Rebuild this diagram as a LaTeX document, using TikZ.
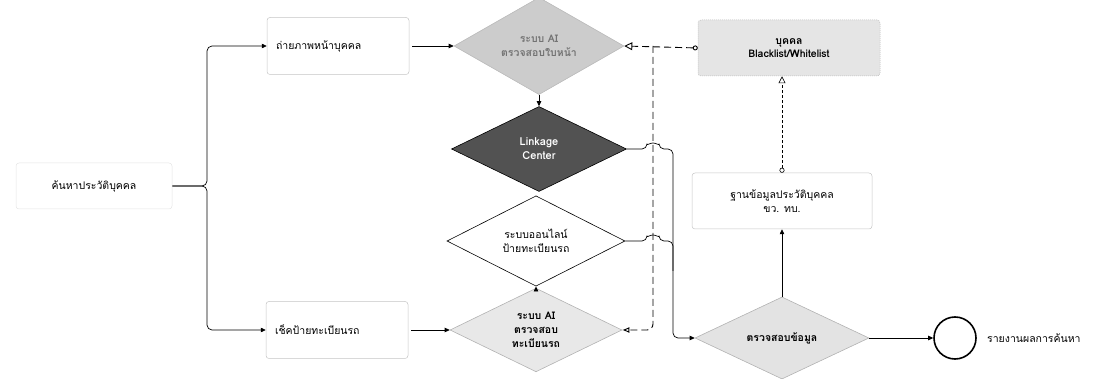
\documentclass[tikz,border=0pt]{standalone}
\usepackage{fontspec}
\setmainfont[Script=Thai]{Loma}
\usetikzlibrary{shapes.geometric,arrows.meta,calc}

\begin{document}
\begin{tikzpicture}[x=1pt,y=-1pt,
  font=\fontsize{10.5}{14}\selectfont,
  flowbox/.style={rectangle, rounded corners=3pt, draw=gray!45, line width=0.5pt,
    fill=white, inner sep=0pt, align=center},
  inbox/.style={flowbox, align=left, text width=124pt, inner xsep=9pt, minimum height=57pt},
  decide/.style={diamond, draw=black, line width=0.6pt, inner sep=0pt, align=center},
  aidecide/.style={decide, draw=gray!60, fill=gray!22, font=\fontsize{10.5}{14}\selectfont\bfseries},
  link/.style={line width=0.7pt, rounded corners=5pt, -{Triangle[length=5pt,width=4.5pt]}},
  plain/.style={line width=0.7pt, rounded corners=5pt},
  feed/.style={line width=0.9pt, dash pattern=on 7pt off 4pt},
  finefeed/.style={line width=0.6pt, dash pattern=on 3pt off 2pt},
  ]
\useasboundingbox (0,0) rectangle (1101,379);

% sources
\node[flowbox, draw=gray!20, minimum width=156pt, minimum height=46pt] (find) at (94,186) {ค้นหาประวัติบุคคล};
\node[inbox] (photo) at (338,46) {ถ่ายภาพหน้าบุคคล};
\node[inbox] (plate) at (337,330) {เช็คป้ายทะเบียนรถ};

% central decisions
\node[aidecide, fill=gray!40, draw=gray!55, text=black!55, minimum width=170pt, minimum height=80pt] (aiface) at (539,46) {ระบบ AI\\ตรวจสอบใบหน้า};
\node[decide, fill=black!68, text=white, font=\fontsize{11}{14}\selectfont\bfseries,
      minimum width=175pt, minimum height=85pt] (linkage) at (539,149) {Linkage\\Center};
\node[decide, fill=white, minimum width=178pt, minimum height=88pt] (online) at (536,241) {ระบบออนไลน์\\ป้ายทะเบียนรถ};
\node[aidecide, fill=gray!18, minimum width=172pt, minimum height=80pt] (aiplate) at (536,330) {ระบบ AI\\ตรวจสอบ\\ทะเบียนรถ};

% right column
\node[flowbox, fill=gray!20, draw=gray!55, dash pattern=on 1pt off 1pt, font=\fontsize{10.5}{13}\selectfont\bfseries,
      minimum width=182pt, minimum height=56pt] (blacklist) at (789,48) {บุคคล\\Blacklist/Whitelist};
\node[flowbox, minimum width=180pt, minimum height=56pt] (db) at (782,201) {ฐานข้อมูลประวัติบุคคล\\ขว. ทบ.};
\node[aidecide, fill=gray!22, minimum width=174pt, minimum height=80pt] (check) at (782,338) {ตรวจสอบข้อมูล};
\node[circle, draw=black, line width=1.6pt, minimum size=42pt, inner sep=0pt] (report) at (955,338) {};
\node[anchor=west, inner sep=0pt] (reportlabel) at (987,338) {รายงานผลการค้นหา};

% routing points
\coordinate (fork) at (207,186);
\coordinate (tap) at (653,46);
\coordinate (bus) at (673,0);

% search fans out to both inputs
\draw[link] (find.east) -- (fork) |- (photo.west);
\draw[link] (find.east) -- (fork) |- (plate.west);
\draw[link, shorten <=3pt] (photo.east) -- (aiface.west);
\draw[link, shorten <=3pt] (plate.east) -- (aiplate.west);
\draw[link] (aiface.south) -- (linkage.north);
\draw[link] (aiplate.north) -- (online.south);

% blacklist feeds both AI systems
\draw[feed, {Circle[open,length=5pt,width=5pt]}-{Triangle[open,length=8pt,width=8pt]}] (blacklist.west) -- (aiface.east);
\draw[feed, rounded corners=6pt, -{Latex[open,length=7pt,width=6pt]}] (tap) |- (aiplate.east);

% results merge into the check (with hops over the dashed line)
\draw[link] (linkage.east) -- ($(linkage.east -| tap)+(-6,0)$)
  arc[start angle=180, end angle=0, radius=6pt]
  -- (linkage.east -| bus) -- (check.west -| bus) -- (check.west);
\draw[plain] (online.east) -- ($(online.east -| tap)+(-6,0)$)
  arc[start angle=180, end angle=0, radius=6pt]
  -- (online.east -| bus) -- ($(online.east -| bus)+(0,30)$);

% check, database and report
\draw[link] (check.north) -- (db.south);
\draw[finefeed, {Circle[open,length=5pt,width=5pt]}-{Triangle[open,length=7pt,width=7pt]}] (db.north) -- (db.north |- blacklist.south);
\draw[link] (check.east) -- (report.west);
\end{tikzpicture}
\end{document}
